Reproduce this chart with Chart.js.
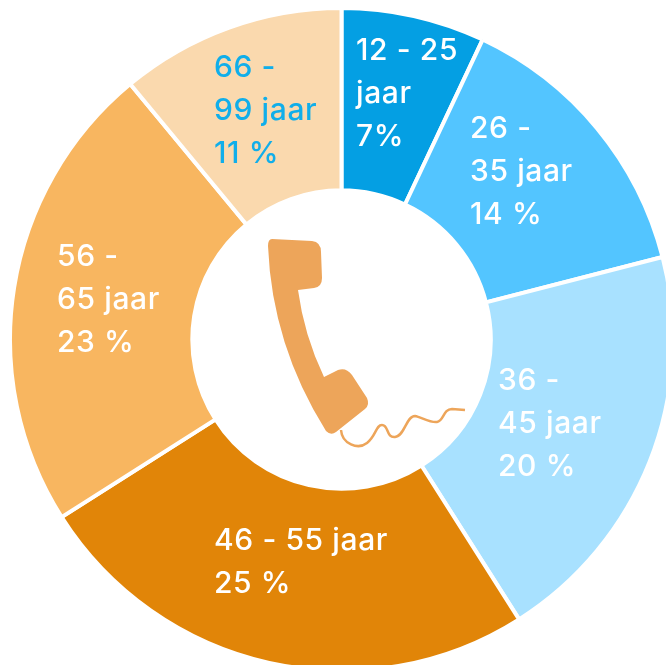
<!DOCTYPE html>
<html>
<head>
<meta charset="utf-8">
<title>Leeftijd bellers</title>
<script src="https://cdn.jsdelivr.net/npm/chart.js@4"></script>
<style>
    html, body { margin: 0; padding: 0; width: 666px; height: 665px; overflow: hidden; background: #fff; }
    #chartLeeftijd { position: absolute; left: 8px; top: 6px; }
</style>
</head>
<body>
<canvas id="chartLeeftijd" width="667" height="667"></canvas>
<script>
const AGE_GROUPS = ['12 - 25 jaar', '26 - 35 jaar', '36 - 45 jaar', '46 - 55 jaar', '56 - 65 jaar', '66 - 99 jaar'];
const SHARES = [7, 14, 20, 25, 23, 11];
const SLICE_COLORS = ['#049fe3', '#53c5ff', '#a8e1ff', '#e18508', '#f8b660', '#fad9ae'];
const LABEL_LINES = [
    ['12 - 25', 'jaar', '7%'],
    ['26 -', '35 jaar', '14 %'],
    ['36 -', '45 jaar', '20 %'],
    ['46 - 55 jaar', '25 %'],
    ['56 -', '65 jaar', '23 %'],
    ['66 -', '99 jaar', '11 %']
];
const LABEL_COLORS = ['#fff', '#fff', '#fff', '#fff', '#fff', '#10aeea'];

// where the first line of each label starts, in page pixels
const LABEL_START = [[356, 60], [470, 138], [498, 390], [214, 550], [57, 266], [214, 77]];
const LINE_HEIGHT = 43;

const sliceLabels = {
    id: 'sliceLabels',
    afterDraw(chart) {
        const ctx = chart.ctx;
        const box = chart.canvas.getBoundingClientRect();
        ctx.save();
        ctx.translate(-box.left, -box.top);
        ctx.font = '500 30px Inter';
        ctx.letterSpacing = '0.6px';
        LABEL_LINES.forEach((lines, i) => {
            ctx.fillStyle = LABEL_COLORS[i];
            lines.forEach((line, n) => {
                ctx.fillText(line, LABEL_START[i][0], LABEL_START[i][1] + n * LINE_HEIGHT);
            });
        });
        ctx.restore();
    }
};

// the telephone in the hole of the doughnut
const phoneIcon = {
    id: 'phoneIcon',
    afterDraw(chart) {
        const ctx = chart.ctx;
        const box = chart.canvas.getBoundingClientRect();
        ctx.save();
        ctx.translate(-box.left, -box.top);
        ctx.fillStyle = '#eda55a';
        ctx.beginPath();
        ctx.moveTo(272, 239);
        ctx.lineTo(312, 241);
        ctx.quadraticCurveTo(321, 242, 321, 252);
        ctx.lineTo(322, 278);
        ctx.quadraticCurveTo(322, 287, 314, 288);
        ctx.lineTo(298, 290);
        ctx.quadraticCurveTo(304, 335, 324, 377);
        ctx.lineTo(338, 370);
        ctx.quadraticCurveTo(346, 367, 352, 375);
        ctx.lineTo(367, 398);
        ctx.quadraticCurveTo(370, 405, 365, 409);
        ctx.lineTo(336, 432);
        ctx.quadraticCurveTo(331, 436, 326, 431);
        ctx.quadraticCurveTo(272, 345, 268, 246);
        ctx.quadraticCurveTo(268, 239, 272, 239);
        ctx.closePath();
        ctx.fill();

        ctx.strokeStyle = '#eda55a';
        ctx.lineWidth = 2.5;
        ctx.beginPath();
        ctx.moveTo(341, 430);
        ctx.bezierCurveTo(342, 444, 358, 450, 367, 443);
        ctx.bezierCurveTo(376, 436, 376, 425, 382, 425);
        ctx.bezierCurveTo(389, 425, 386, 438, 395, 437);
        ctx.bezierCurveTo(405, 436, 406, 416, 415, 416);
        ctx.bezierCurveTo(421, 417, 430, 423, 437, 422);
        ctx.bezierCurveTo(444, 421, 443, 409, 452, 409);
        ctx.lineTo(465, 410);
        ctx.stroke();
        ctx.restore();
    }
};

const ctx = document.getElementById('chartLeeftijd');
new Chart(ctx, {
    type: 'doughnut',
    data: {
        labels: AGE_GROUPS,
        datasets: [
            {
                data: SHARES,
                backgroundColor: SLICE_COLORS,
                borderColor: '#fff',
                borderWidth: 4
            }
        ]
    },
    options: {
        responsive: false,
        animation: false,
        cutout: '45%',
        layout: { padding: 0 },
        plugins: {
            legend: { display: false },
            title: { display: false },
            tooltip: { enabled: false }
        }
    },
    plugins: [sliceLabels, phoneIcon]
});
</script>
</body>
</html>
